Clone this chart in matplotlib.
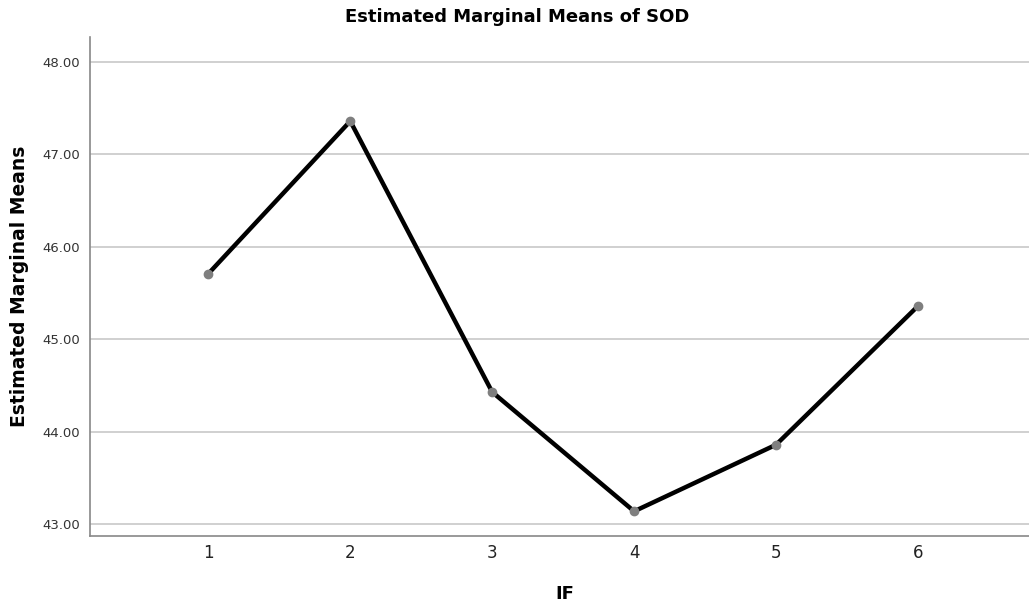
import matplotlib
matplotlib.use('Agg')
import matplotlib.pyplot as plt

# estimated marginal means
levels = [1, 2, 3, 4, 5, 6]
means = [45.71, 47.36, 44.43, 43.14, 43.86, 45.36]
yticks = [43.0, 44.0, 45.0, 46.0, 47.0, 48.0]

plt.rcParams['font.family'] = ['DejaVu Sans']

fig = plt.figure(figsize=(10.29, 6.05), dpi=100)
ax = fig.add_axes([90/1029, 1 - 536/605, (1040-90)/1029, (536-37)/605])

ax.plot(levels, means, color='black', lw=3.2, zorder=3,
        marker='o', markersize=6, markerfacecolor='#7f7f7f', markeredgecolor='#7f7f7f')

ax.set_xlim(0.166, 6.86)
ax.set_ylim(42.873, 48.27)
ax.set_xticks(levels)
ax.set_xticklabels([str(l) for l in levels], fontsize=12, color='#222222')
ax.set_yticks(yticks)
ax.set_yticklabels(['%.2f' % t for t in yticks], fontsize=9.5, color='#333333')
ax.tick_params(length=0, pad=7)
ax.tick_params(axis='x', pad=6)

ax.grid(axis='y', color='#c8c8c8', lw=1.2)
ax.set_axisbelow(True)
for s in ['top', 'right']:
    ax.spines[s].set_visible(False)
for s in ['left', 'bottom']:
    ax.spines[s].set_color('#888888')
    ax.spines[s].set_linewidth(1.2)

ax.set_xlabel('IF', fontsize=13, fontweight='bold', labelpad=16)
ax.set_ylabel('Estimated Marginal Means', fontsize=13.5, fontweight='bold', labelpad=10)
fig.text(517/1029, 1 - 17/605, 'Estimated Marginal Means of SOD',
         ha='center', va='center', fontsize=13, fontweight='bold')

fig.savefig('out.png', dpi=100)
